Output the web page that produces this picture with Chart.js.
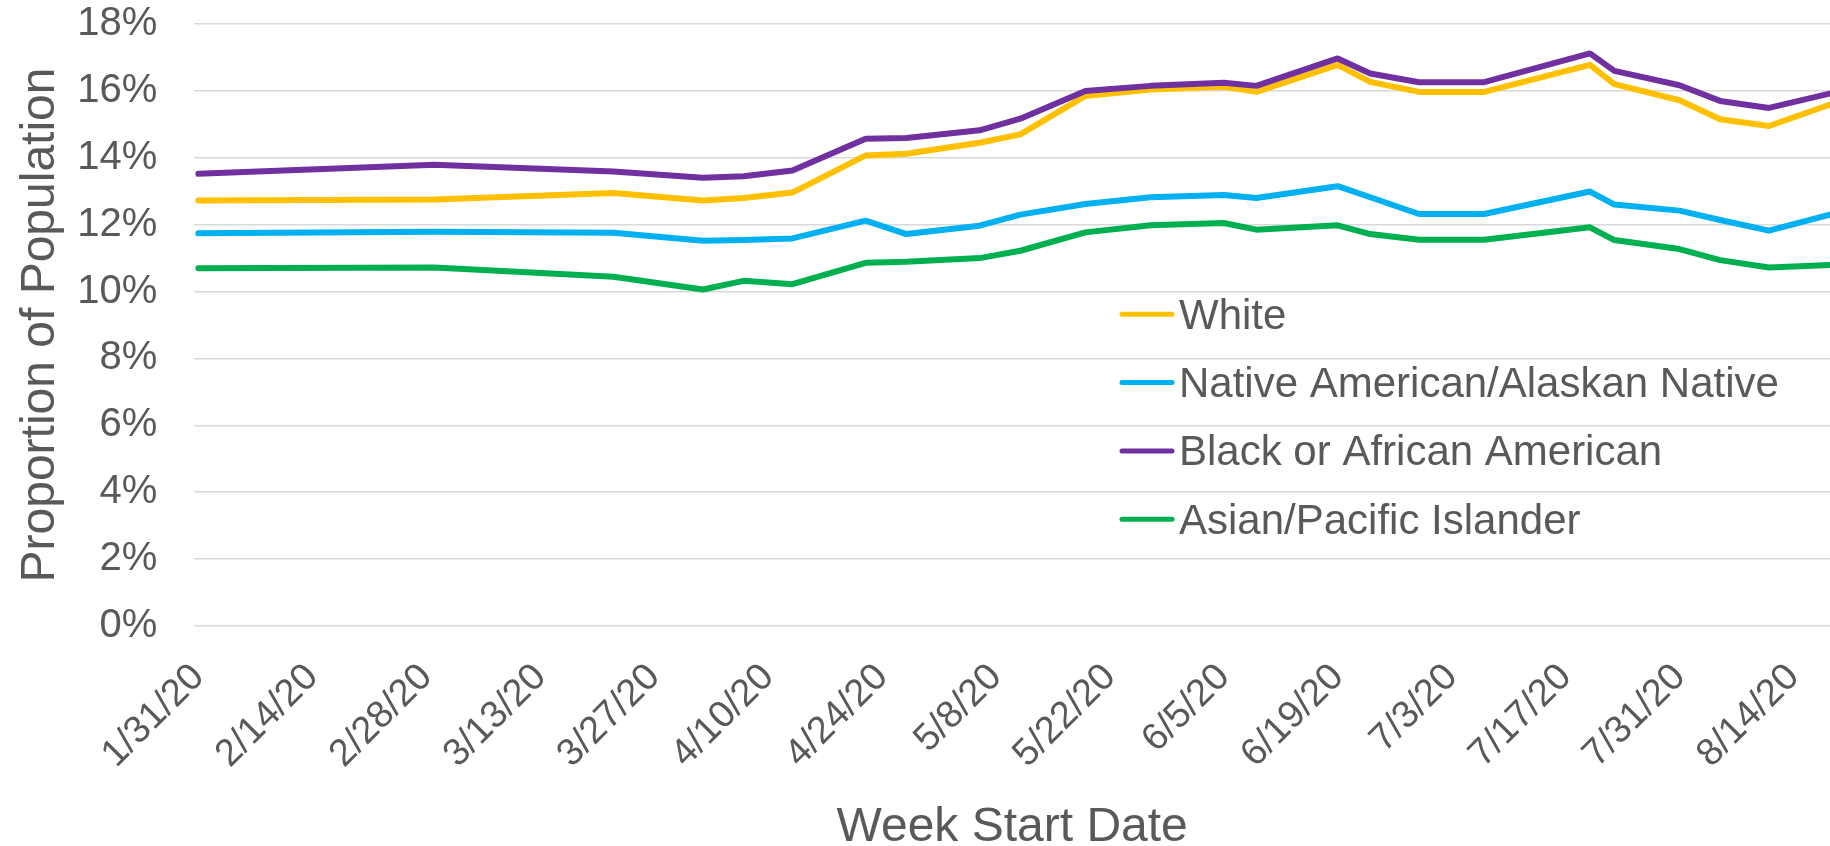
<!DOCTYPE html>
<html lang="en">
<head>
<meta charset="UTF-8">
<title>Proportion of Population by Race</title>
<script src="https://cdn.jsdelivr.net/npm/chart.js"></script>
<style>
    body {
        margin: 0;
        background: #ffffff;
    }
    .chart-container {
        position: relative;
        width: 1830px;
        height: 846px;
    }
</style>
</head>
<body>
<div class="chart-container">
    <canvas id="raceChart"></canvas>
</div>

<script>
    // week start dates of each survey point
    const weekDates = [
        '2020-01-31', '2020-02-29', '2020-03-22', '2020-04-02', '2020-04-07', '2020-04-13',
        '2020-04-22', '2020-04-27', '2020-05-06', '2020-05-11', '2020-05-19', '2020-05-27',
        '2020-06-05', '2020-06-09', '2020-06-19', '2020-06-23', '2020-06-29', '2020-07-07',
        '2020-07-20', '2020-07-23', '2020-07-31', '2020-08-05', '2020-08-11', '2020-08-19'
    ];

    // proportion of population, percent
    const white = [12.72, 12.75, 12.95, 12.72, 12.80, 12.96, 14.07, 14.12, 14.45, 14.70, 15.85, 16.04,
                   16.12, 15.97, 16.78, 16.27, 15.97, 15.97, 16.78, 16.20, 15.72, 15.15, 14.95, 15.63];
    const nativeAmerican = [11.74, 11.79, 11.76, 11.52, 11.54, 11.59, 12.12, 11.72, 11.97, 12.30, 12.62, 12.82,
                            12.89, 12.80, 13.15, 12.82, 12.32, 12.32, 12.99, 12.60, 12.42, 12.14, 11.82, 12.33];
    const black = [13.52, 13.79, 13.59, 13.40, 13.45, 13.62, 14.57, 14.59, 14.82, 15.17, 16.00, 16.15,
                   16.24, 16.15, 16.97, 16.52, 16.26, 16.26, 17.12, 16.60, 16.17, 15.70, 15.49, 15.95];
    const asianPacific = [10.70, 10.72, 10.44, 10.06, 10.32, 10.22, 10.86, 10.89, 11.00, 11.22, 11.77, 11.98,
                          12.05, 11.85, 11.98, 11.72, 11.55, 11.55, 11.92, 11.54, 11.27, 10.94, 10.72, 10.80];

    const seriesNames = ['White', 'Native American/Alaskan Native', 'Black or African American', 'Asian/Pacific Islander'];
    const seriesColors = ['#FFC000', '#00B0F0', '#7030A0', '#00B050'];

    // x axis tick labels, every two weeks
    const tickLabels = ['1/31/20', '2/14/20', '2/28/20', '3/13/20', '3/27/20', '4/10/20', '4/24/20', '5/8/20',
                        '5/22/20', '6/5/20', '6/19/20', '7/3/20', '7/17/20', '7/31/20', '8/14/20'];

    const yTicks = [0, 2, 4, 6, 8, 10, 12, 14, 16, 18];

    const fontFamily = '"Liberation Sans", Arial, sans-serif';
    const textColor = '#595959';
    const DAY = 86400000;
    const startDay = Date.parse('2020-01-31');

    // day offsets from the first week
    function dayOfIso(s) {
        return (Date.parse(s) - startDay) / DAY;
    }
    function dayOfLabel(s) {
        const [m, d, y] = s.split('/').map(Number);
        return (Date.UTC(2000 + y, m - 1, d) - startDay) / DAY;
    }

    const xDays = weekDates.map(dayOfIso);
    const tickDays = tickLabels.map(dayOfLabel);

    function toPoints(values) {
        return values.map((v, i) => ({ x: xDays[i], y: v }));
    }

    // no automatic padding around the axes, the plot fills the frame
    function clearPadding(scale) {
        scale.paddingTop = 0;
        scale.paddingBottom = 0;
        scale.paddingLeft = 0;
        scale.paddingRight = 0;
    }

    // legend drawn inside the plot area
    const insideLegend = {
        id: 'insideLegend',
        afterDatasetsDraw(chart, args, opts) {
            const ctx = chart.ctx;
            ctx.save();
            ctx.font = opts.fontSize + 'px ' + fontFamily;
            ctx.textBaseline = 'middle';
            ctx.textAlign = 'left';
            chart.data.datasets.forEach((ds, row) => {
                const y = opts.top + row * opts.rowGap;
                ctx.strokeStyle = ds.borderColor;
                ctx.lineWidth = 5;
                ctx.lineCap = 'round';
                ctx.beginPath();
                ctx.moveTo(opts.left, y);
                ctx.lineTo(opts.left + opts.lineLength, y);
                ctx.stroke();
                ctx.fillStyle = textColor;
                ctx.fillText(ds.label, opts.left + opts.lineLength + opts.gap, y + 3);
            });
            ctx.restore();
        }
    };

    const allValues = [white, nativeAmerican, black, asianPacific];

    const ctx = document.getElementById('raceChart').getContext('2d');
    const chart = new Chart(ctx, {
        type: 'line',
        data: {
            datasets: allValues.map((vals, i) => ({
                label: seriesNames[i],
                data: toPoints(vals),
                borderColor: seriesColors[i],
                backgroundColor: seriesColors[i],
                borderWidth: 6,
                borderCapStyle: 'round',
                borderJoinStyle: 'round',
                pointRadius: 0,
                tension: 0,
                order: 4 - i
            }))
        },
        options: {
            responsive: true,
            maintainAspectRatio: false,
            animation: false,
            layout: {
                autoPadding: false,
                padding: { top: 24, right: 0, bottom: 0, left: 0 }
            },
            scales: {
                x: {
                    type: 'linear',
                    min: -0.5,
                    max: 200.5,
                    grid: { display: false },
                    border: { display: false },
                    afterBuildTicks: (scale) => {
                        scale.ticks = tickDays.map(d => ({ value: d }));
                    },
                    afterFit: (scale) => {
                        scale.height = 220;
                        clearPadding(scale);
                    },
                    ticks: {
                        autoSkip: false,
                        maxRotation: 45,
                        minRotation: 45,
                        padding: 21,
                        color: textColor,
                        font: { family: fontFamily, size: 38 },
                        callback: (value, index) => tickLabels[index]
                    },
                    title: {
                        display: true,
                        text: 'Week Start Date',
                        color: textColor,
                        font: { family: fontFamily, size: 48, lineHeight: 0.75 },
                        padding: { top: 0, bottom: 0 }
                    }
                },
                y: {
                    min: 0,
                    max: 18,
                    afterBuildTicks: (scale) => {
                        scale.ticks = yTicks.map(v => ({ value: v }));
                    },
                    afterFit: (scale) => {
                        scale.width = 194.3;
                        clearPadding(scale);
                    },
                    grid: {
                        color: '#D9D9D9',
                        lineWidth: 1.6,
                        drawTicks: false
                    },
                    border: { display: false },
                    ticks: {
                        padding: 37,
                        color: textColor,
                        font: { family: fontFamily, size: 40 },
                        callback: (value) => value + '%'
                    },
                    title: {
                        display: true,
                        text: 'Proportion of Population',
                        color: textColor,
                        font: { family: fontFamily, size: 48, lineHeight: 1.0 },
                        padding: { top: 16.5, bottom: 0 }
                    }
                }
            },
            plugins: {
                legend: { display: false },
                tooltip: { enabled: false },
                insideLegend: {
                    left: 1122,
                    lineLength: 50,
                    gap: 7,
                    top: 314.3,
                    rowGap: 68.3,
                    fontSize: 42
                }
            }
        },
        plugins: [insideLegend]
    });
</script>
</body>
</html>
